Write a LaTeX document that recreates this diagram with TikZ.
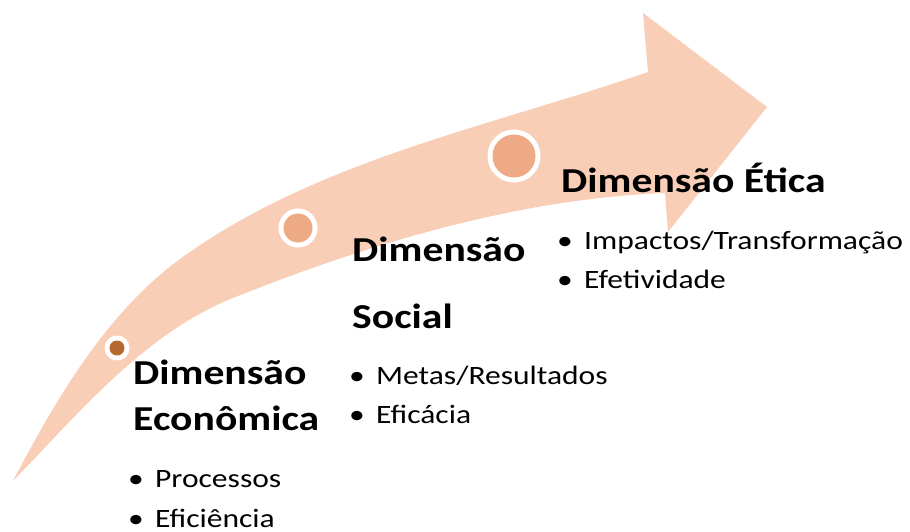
\documentclass[tikz,border=0pt]{standalone}
\usepackage{fontspec}
\newfontfamily\calfont[FakeStretch=1.19]{Carlito}
\definecolor{arrowfill}{HTML}{F9CEB7}
\definecolor{dotfill}{HTML}{EDAA84}
\definecolor{dotdark}{HTML}{B5692F}
\tikzset{
  heading/.style={anchor=base west, inner sep=0pt, font=\calfont\bfseries\fontsize{35}{42}\selectfont, text=black},
  bulletline/.style={anchor=base west, inner sep=0pt, font=\calfont\fontsize{26.5}{32}\selectfont, text=black},
  ring/.style={circle, fill=white, inner sep=0pt},
}
\newcommand{\bitem}[1]{\makebox[27pt][l]{•}#1}
\begin{document}
\begin{tikzpicture}[x=1pt,y=-1pt]
\useasboundingbox (0,0) rectangle (910,531);
% arrow
\fill[arrowfill] (13,481)
  .. controls (57,397) and (109,308) .. (187,254)
  .. controls (322,159) and (492,126) .. (648,72)
  -- (643,13) -- (767,107) -- (668,232) -- (665,193)
  .. controls (517,199) and (371,243) .. (233,298)
  .. controls (145,333) and (79,413) .. (13,481) -- cycle;
% circles
\node[ring, minimum size=25pt] (c1o) at (117,348) {};
\node[circle, fill=dotdark, inner sep=0pt, minimum size=15pt] (c1) at (117,348) {};
\node[ring, minimum size=39pt] (c2o) at (298,228) {};
\node[circle, fill=dotfill, inner sep=0pt, minimum size=29pt] (c2) at (298,228) {};
\node[ring, minimum size=53pt] (c3o) at (514,156) {};
\node[circle, fill=dotfill, inner sep=0pt, minimum size=43pt] (c3) at (514,156) {};
% texts
\node[heading] (h3) at (561,192) {Dimensão Ética};
\node[bulletline] (b31) at (557,249) {\bitem{Impactos/Transformação}};
\node[bulletline] (b32) at (557,288) {\bitem{Efetividade}};
\node[heading] (h2a) at (352,261) {Dimensão};
\node[heading] (h2b) at (352,328) {Social};
\node[bulletline] (b21) at (349,384) {\bitem{Metas/Resultados}};
\node[bulletline] (b22) at (349,423) {\bitem{Eficácia}};
\node[heading] (h1a) at (133,384) {Dimensão};
\node[heading] (h1b) at (133,430) {Econômica};
\node[bulletline] (b11) at (128,487) {\bitem{Processos}};
\node[bulletline] (b12) at (128,527) {\bitem{Eficiência}};
\end{tikzpicture}
\end{document}
